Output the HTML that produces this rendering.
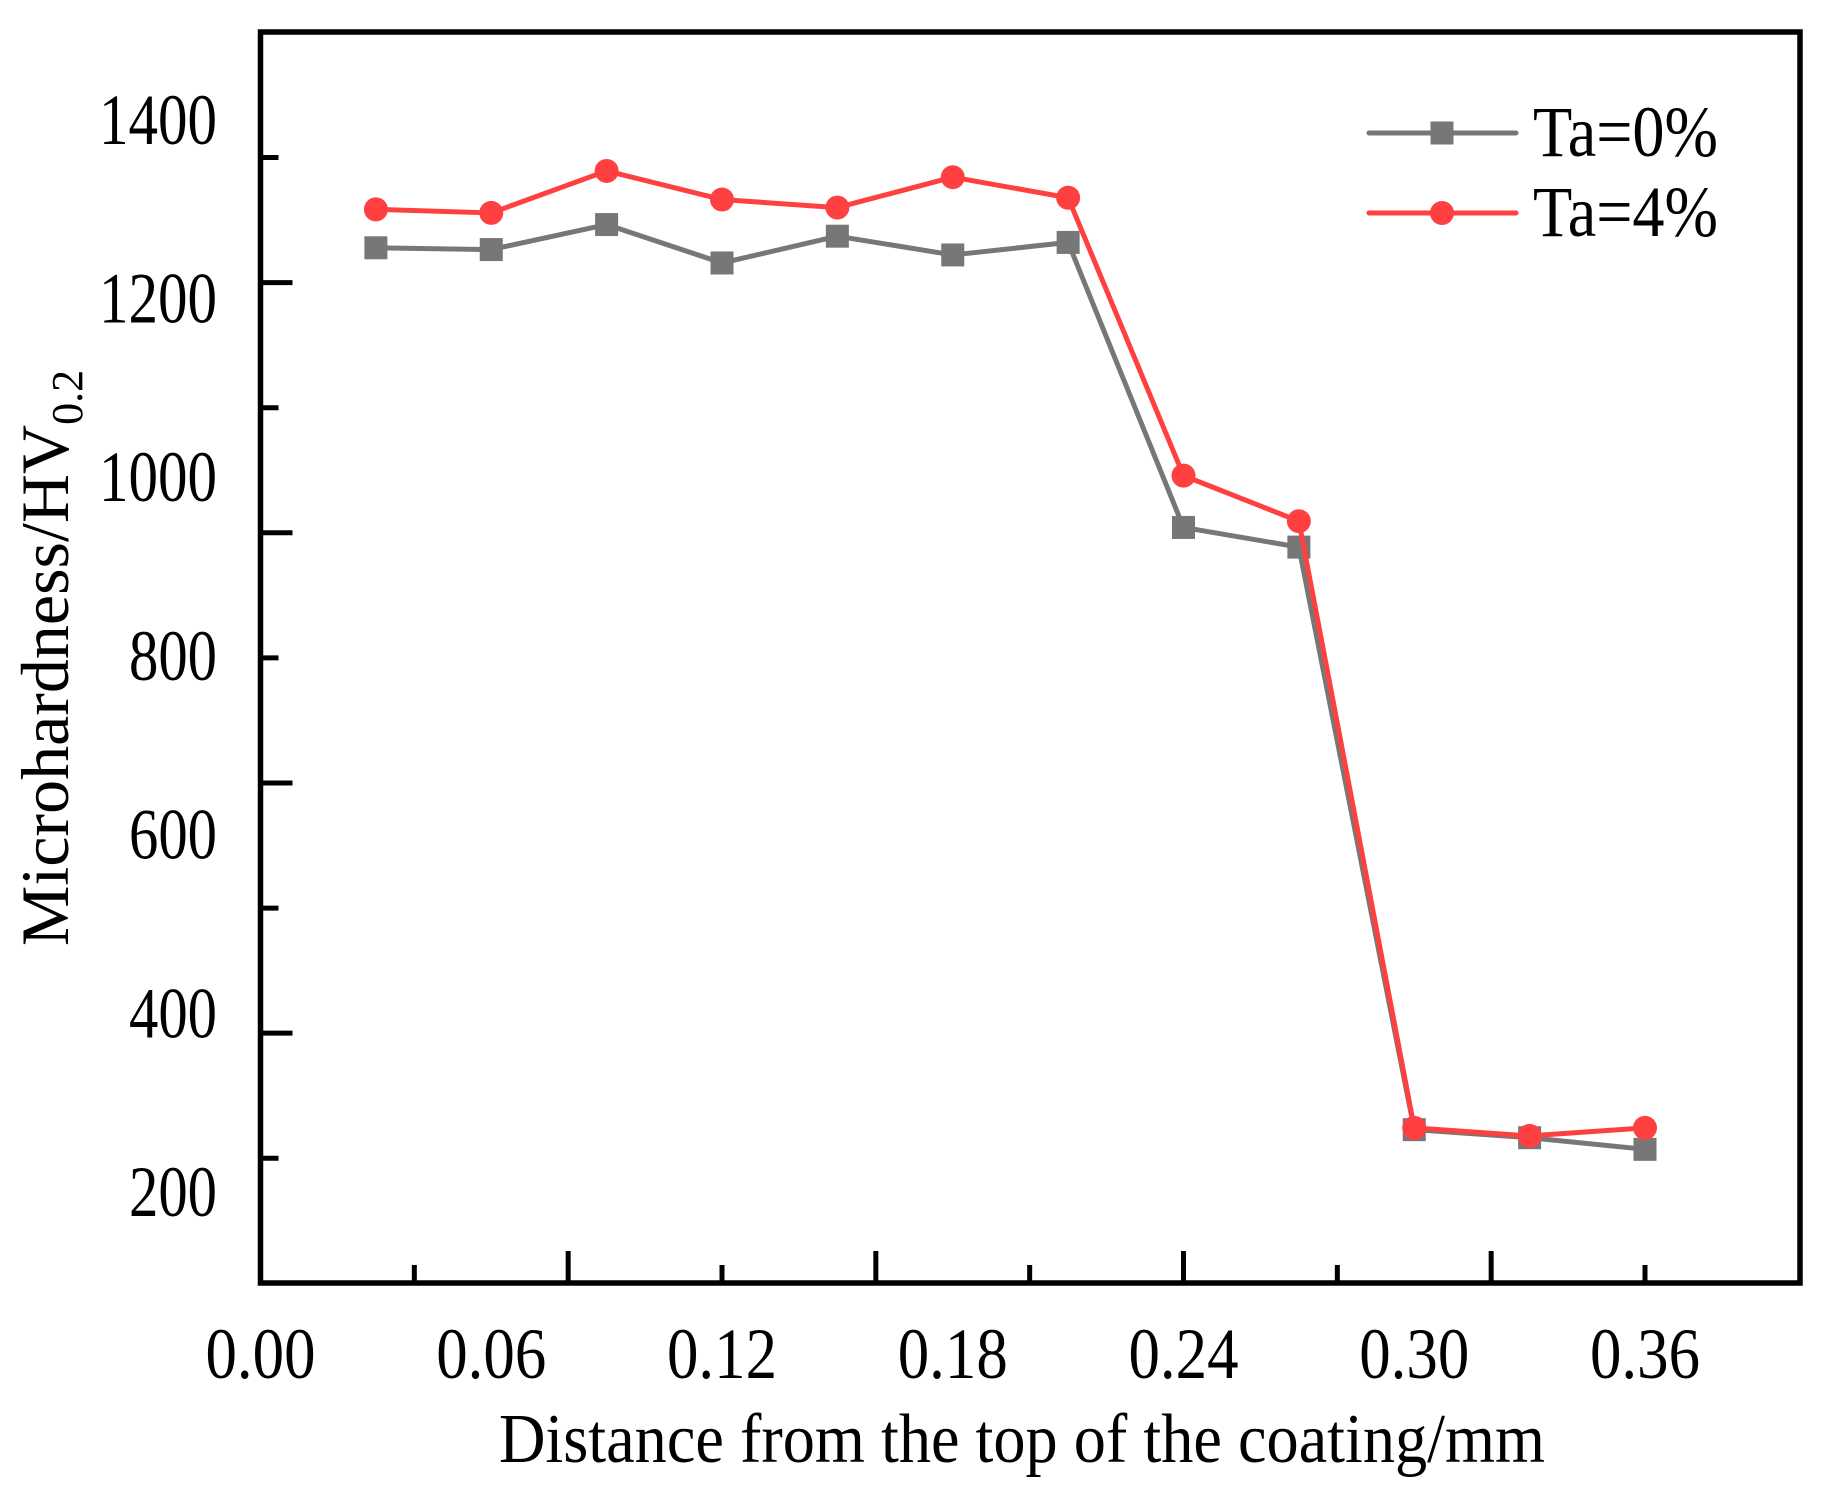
<!DOCTYPE html>
<html><head><meta charset="utf-8"><style>
html,body{margin:0;padding:0;background:#fff;}
svg{display:block;font-family:"Liberation Serif",serif;}
</style></head><body>
<svg id="chart" width="1827" height="1498" viewBox="0 0 1827 1498" xmlns="http://www.w3.org/2000/svg">
<rect x="0" y="0" width="1827" height="1498" fill="#fff"/>
<g id="ticks"></g>
<g id="series"></g>
<rect x="260.5" y="32" width="1539.5" height="1251" fill="none" stroke="#000" stroke-width="5.5"/>
<g id="labels" font-size="72" fill="#000"></g>
<text x="1022" y="1462" font-size="70" text-anchor="middle" textLength="1046" lengthAdjust="spacingAndGlyphs">Distance from the top of the coating/mm</text>
<text transform="translate(68,658) rotate(-90)" font-size="68" text-anchor="middle">Microhardness/HV<tspan font-size="44" dy="14">0.2</tspan></text>
<g>
<g>
<line x1="1369" y1="133" x2="1516" y2="133" stroke="#777" stroke-width="5" stroke-linecap="round"/>
<rect x="1430.5" y="121.5" width="23" height="23" fill="#777"/>
<text x="1533" y="156" font-size="72" textLength="185" lengthAdjust="spacingAndGlyphs">Ta=0%</text>
</g>
<g>
<line x1="1369" y1="213" x2="1516" y2="213" stroke="#ff4040" stroke-width="5" stroke-linecap="round"/>
<circle cx="1442" cy="213" r="12" fill="#ff4040"/>
<text x="1533" y="236" font-size="72" textLength="185" lengthAdjust="spacingAndGlyphs">Ta=4%</text>
</g>
</g>
</svg>
<script>
const xValues = [0.03,0.06,0.09,0.12,0.15,0.18,0.21,0.24,0.27,0.30,0.33,0.36];
const ta0Values = [1259,1257,1285,1242,1272,1251,1265,946,924,272,263,250];
const ta4Values = [1302,1298,1345,1313,1304,1338,1315,1004,953,274,265,274];
const xTickLabels = ["0.00","0.06","0.12","0.18","0.24","0.30","0.36"];
const yTickLabels = ["200","400","600","800","1000","1200","1400"];
const xTickMarks = [0.04,0.08,0.12,0.16,0.20,0.24,0.28,0.32,0.36];
const yTickMarks = [240,380,520,660,800,940,1080,1220,1360];

const NS = "http://www.w3.org/2000/svg";
const X0 = 260.5, PX = (1645-260.5)/0.36;
const Y0 = 1194, PY = 178.7/200;
function xs(v){return X0 + v*PX;}
function ys(v){return Y0 - (v-200)*PY;}
function mk(tag, attrs, parent){
  const el = document.createElementNS(NS, tag);
  for (const k in attrs) el.setAttribute(k, attrs[k]);
  parent.appendChild(el); return el;
}
const ticks = document.getElementById('ticks');
xTickMarks.forEach((v,i)=>{
  const major = (i%2===1);
  const t = mk('line',{x1:xs(v),x2:xs(v),y1:1283,y2:1283-(major?32:18),stroke:'#000','stroke-width':5},ticks);
  
  
});
yTickMarks.forEach((v,i)=>{
  const major = (i%2===1);
  const t = mk('line',{x1:260.5,x2:260.5+(major?32:18),y1:ys(v),y2:ys(v),stroke:'#000','stroke-width':5},ticks);
  
  
});
const labels = document.getElementById('labels');
xTickLabels.forEach(s=>{
  const t = mk('text',{x:xs(parseFloat(s)),y:1378,'text-anchor':'middle',textLength:110,lengthAdjust:'spacingAndGlyphs'},labels);
  t.textContent = s;
  
  
});
yTickLabels.forEach(s=>{
  const w = s.length===4 ? 118 : 88;
  const t = mk('text',{x:217-w,y:ys(parseFloat(s))+22,textLength:w,lengthAdjust:'spacingAndGlyphs'},labels);
  t.textContent = s;
  
  
});
const series = document.getElementById('series');
function drawSeries(vals, color, shape, name){
  const g = mk('g',{},series);
  
  
  const pts = vals.map((v,i)=>xs(xValues[i])+','+ys(v)).join(' ');
  const pl = mk('polyline',{points:pts,fill:'none',stroke:color,'stroke-width':5,'stroke-linejoin':'round'},g);
  
  
  vals.forEach((v,i)=>{
    let m;
    if(shape==='square') m = mk('rect',{x:xs(xValues[i])-11.5,y:ys(v)-11.5,width:23,height:23,fill:color},g);
    else m = mk('circle',{cx:xs(xValues[i]),cy:ys(v),r:12,fill:color},g);
    
    
  });
}
drawSeries(ta0Values,'#777','square','series-ta0');
drawSeries(ta4Values,'#ff4040','circle','series-ta4');
</script>
</body></html>
